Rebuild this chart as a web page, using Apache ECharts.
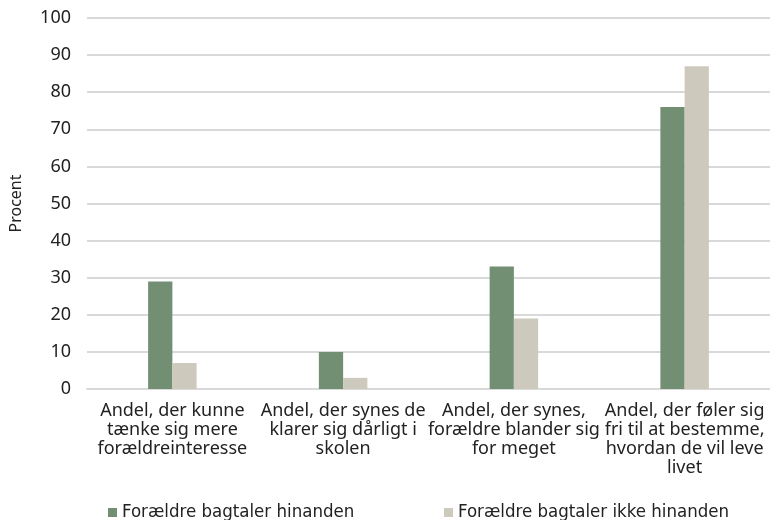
<!DOCTYPE html>
<html><head><meta charset="utf-8">
<script src="https://cdn.jsdelivr.net/npm/echarts@6/dist/echarts.min.js"></script>
<style>html,body{margin:0;padding:0;background:#fff}#c{width:770px;height:520px}</style>
</head><body><div id="c"></div>
<script>
var categories = [
  "Andel, der kunne\ntænke sig mere\nforældreinteresse",
  "Andel, der synes de\nklarer sig dårligt i\nskolen",
  "Andel, der synes,\nforældre blander sig\nfor meget",
  "Andel, der føler sig\nfri til at bestemme,\nhvordan de vil leve\nlivet"
];
var seriesNames = ["Forældre bagtaler hinanden", "Forældre bagtaler ikke hinanden"];
var valuesA = [29, 10, 33, 76];
var valuesB = [7, 3, 19, 87];
var yTicks = {min: 0, max: 100, interval: 10};
var yTitle = "Procent";

var font = "Noto Sans";
var legendFont = "'DejaVu Sans Condensed', 'Noto Sans', sans-serif";
var chart = echarts.init(document.getElementById('c'));
chart.setOption({
  animation: false,
  color: ['#728f74', '#cdc9bd'],
  grid: {left: 85, right: -5, top: 18, bottom: 131},
  legend: [
    {data: [seriesNames[0]], left: 103, top: 498, icon: 'rect', itemWidth: 9, itemHeight: 9, itemGap: 3,
     textStyle: {fontFamily: legendFont, fontSize: 18.5, color: '#222'}},
    {data: [seriesNames[1]], left: 439, top: 498, icon: 'rect', itemWidth: 9, itemHeight: 9, itemGap: 3,
     textStyle: {fontFamily: legendFont, fontSize: 18.5, color: '#222'}}
  ],
  xAxis: {
    type: 'category', data: categories,
    axisLine: {lineStyle: {color: '#d9d9d9', width: 2}},
    axisTick: {show: false},
    axisLabel: {fontFamily: font, fontSize: 18, color: '#222', lineHeight: 19, margin: 12, interval: 0}
  },
  yAxis: {
    type: 'value', min: yTicks.min, max: yTicks.max, interval: yTicks.interval,
    name: yTitle, nameLocation: 'middle', nameGap: 63, nameRotate: 90,
    nameTextStyle: {fontFamily: font, fontSize: 16, color: '#222'},
    splitLine: {lineStyle: {color: '#d9d9d9', width: 2}},
    axisLabel: {fontFamily: font, fontSize: 18, color: '#222', margin: 16}
  },
  series: [
    {name: seriesNames[0], type: 'bar', data: valuesA, barWidth: '14.2%', barGap: '0%'},
    {name: seriesNames[1], type: 'bar', data: valuesB, barWidth: '14.2%', barGap: '0%'}
  ]
});
</script></body></html>
